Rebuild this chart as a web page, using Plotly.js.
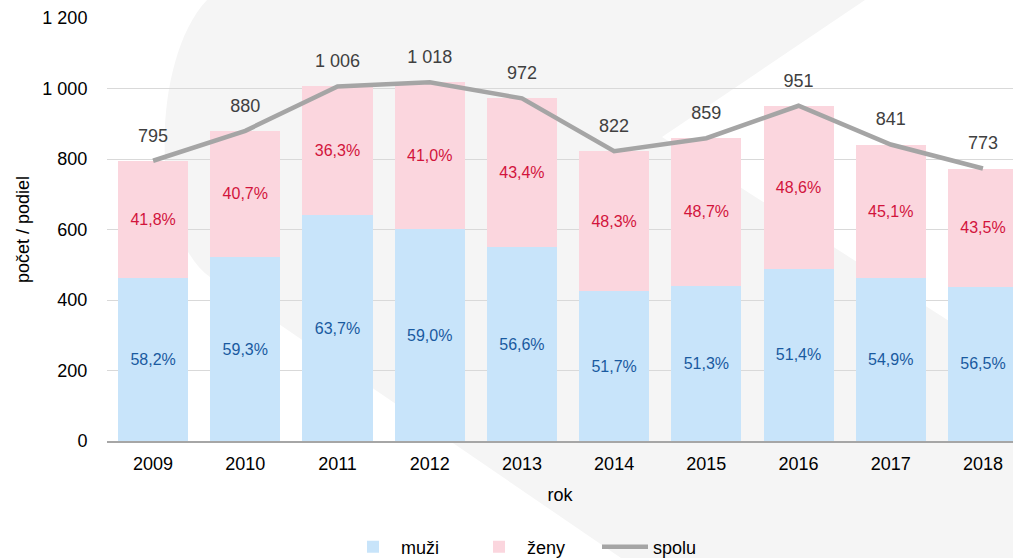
<!DOCTYPE html>
<html>
<head>
<meta charset="utf-8">
<script src="https://cdn.plot.ly/plotly-3.0.1.min.js"></script>
<style>html,body{margin:0;padding:0;background:#fff}#chart{width:1013px;height:558px}</style>
</head>
<body>
<div id="chart"></div>
<script>
// ---- data ----
const roky = ['2009','2010','2011','2012','2013','2014','2015','2016','2017','2018'];
const spolu = [795, 880, 1006, 1018, 972, 822, 859, 951, 841, 773];
const muzi = [463, 522, 641, 601, 550, 425, 441, 489, 462, 437];
const zeny = [332, 358, 365, 417, 422, 397, 418, 462, 379, 336];
const muziPct = [58.2, 59.3, 63.7, 59.0, 56.6, 51.7, 51.3, 51.4, 54.9, 56.5];
const zenyPct = [41.8, 40.7, 36.3, 41.0, 43.4, 48.3, 48.7, 48.6, 45.1, 43.5];
const yTicks = [0, 200, 400, 600, 800, 1000, 1200];

// ---- layout geometry ----
const W = 1013, H = 558;
const M = {l: 107, r: 0, t: 18, b: 117, pad: 0};
function PX(px) { return (px - M.l) / (W - M.l - M.r); }
function PY(py) { return 1 - (py - M.t) / (H - M.t - M.b); }
function P(px, py) { return PX(px).toFixed(5) + ',' + PY(py).toFixed(5); }
// decorative background watermark (pixel outline converted to paper coords)
const wm = 'M' + P(207, 0) + ' L' + P(865, 0) + ' L' + P(662, 137) + ' L' + P(1013, 362) +
  ' L' + P(1013, 558) + ' L' + P(621, 558) + ' L' + P(210, 277) +
  ' C' + P(150, 235) + ' ' + P(150, 60) + ' ' + P(207, 0) + ' Z';

const FONT = 'Liberation Sans, Arial, sans-serif';

const traces = [
  {
    type: 'bar', name: 'muži', x: roky, y: muzi,
    marker: {color: '#c8e4fa'},
    text: muziPct, texttemplate: '%{text:.1f}%',
    textposition: 'inside', insidetextanchor: 'middle', constraintext: 'none', textangle: 0,
    textfont: {family: FONT, size: 16, color: '#1a5aa0'},
    hoverinfo: 'skip'
  },
  {
    type: 'bar', name: 'ženy', x: roky, y: zeny,
    marker: {color: '#fbd6de'},
    text: zenyPct, texttemplate: '%{text:.1f}%',
    textposition: 'inside', insidetextanchor: 'middle', constraintext: 'none', textangle: 0,
    textfont: {family: FONT, size: 16, color: '#d2143c'},
    hoverinfo: 'skip'
  },
  {
    type: 'scatter', name: 'spolu', x: roky, y: spolu,
    mode: 'lines+markers+text',
    line: {color: '#a5a5a5', width: 4.5},
    marker: {size: 22, color: 'rgba(0,0,0,0)'},
    texttemplate: '%{y:,d}', textposition: 'top center',
    textfont: {family: FONT, size: 18, color: '#404040'},
    cliponaxis: false,
    hoverinfo: 'skip'
  }
];

const layout = {
  width: W, height: H,
  margin: M,
  paper_bgcolor: '#ffffff',
  plot_bgcolor: 'rgba(0,0,0,0)',
  separators: ', ',
  barmode: 'stack',
  bargap: 0.24,
  font: {family: FONT, size: 18, color: '#000'},
  showlegend: true,
  legend: {
    orientation: 'h', xref: 'container', x: 345 / W, xanchor: 'left',
    yref: 'container', y: 1 - 547 / H, yanchor: 'middle',
    font: {family: FONT, size: 18, color: '#000'},
    itemwidth: 46, entrywidth: 65, entrywidthmode: 'pixels',
    traceorder: 'normal', bgcolor: 'rgba(0,0,0,0)', borderwidth: 0
  },
  xaxis: {
    type: 'category',
    range: [-0.5, 9.326],
    showline: true, linecolor: '#a6a6a6', linewidth: 2,
    showgrid: false, zeroline: false,
    ticks: 'outside', ticklen: 5, tickcolor: 'rgba(0,0,0,0)',
    tickfont: {family: FONT, size: 18, color: '#000'},
    title: {text: 'rok', font: {family: FONT, size: 18, color: '#000'}, standoff: 16},
    fixedrange: true
  },
  yaxis: {
    range: [0, 1200],
    tickvals: yTicks, tickformat: ',d',
    showgrid: true, gridcolor: '#d9d9d9', gridwidth: 1,
    zeroline: false, showline: false,
    ticks: 'outside', ticklen: 15, tickcolor: 'rgba(0,0,0,0)',
    tickfont: {family: FONT, size: 18, color: '#000'},
    title: {text: 'počet / podiel', font: {family: FONT, size: 18, color: '#000'}, standoff: 8},
    fixedrange: true
  },
  shapes: [
    {type: 'path', xref: 'paper', yref: 'paper', path: wm,
     fillcolor: '#f5f5f5', line: {width: 0}, layer: 'below'}
  ]
};

Plotly.newPlot('chart', traces, layout, {displayModeBar: false, staticPlot: true});
</script>
</body>
</html>
